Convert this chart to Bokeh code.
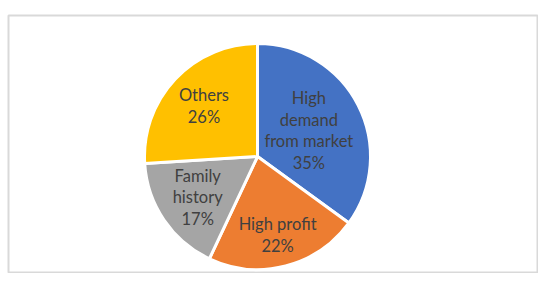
import math
from bokeh.plotting import figure
from bokeh.models import ColumnDataSource, Range1d
from bokeh.core.properties import value
from bokeh.embed import file_html
from bokeh.resources import INLINE

# ---- data ----
categories = ["High demand from market", "High profit", "Family history", "Others"]
label_text = ["High\ndemand\nfrom market", "High profit", "Family\nhistory", "Others"]
values = [35, 22, 17, 26]
colors = ["#4472C4", "#ED7D31", "#A5A5A5", "#FFC000"]

# ---- layout ----
FRAME_W, FRAME_H = 530, 258
LEFT, TOP = 8, 15
cx, cy, R = 249, 117, 113
label_r = [0.51, 0.715, 0.64, 0.65]

total = float(sum(values))
starts, ends, lx, ly, texts = [], [], [], [], []
cum = 0.0
for i, v in enumerate(values):
    a0 = math.pi / 2 - 2 * math.pi * cum / total
    cum += v
    a1 = math.pi / 2 - 2 * math.pi * cum / total
    starts.append(a0)
    ends.append(a1)
    mid = (a0 + a1) / 2
    lx.append(cx + label_r[i] * R * math.cos(mid))
    ly.append(cy + label_r[i] * R * math.sin(mid))
    texts.append(f"{label_text[i]}\n{round(100 * v / total)}%")

src = ColumnDataSource(dict(cat=categories, start=starts, end=ends, color=colors,
                            x=lx, y=ly, text=texts))

p = figure(width=FRAME_W + LEFT, height=FRAME_H + TOP, output_backend="svg",
           toolbar_location=None,
           x_range=Range1d(0, FRAME_W), y_range=Range1d(0, FRAME_H),
           x_axis_type=None, y_axis_type=None,
           min_border_left=LEFT, min_border_right=0, min_border_bottom=0,
           min_border_top=TOP)
p.grid.visible = False
p.background_fill_color = "white"
p.border_fill_color = "white"
p.outline_line_color = "#d9d9d9"
p.outline_line_width = 2

p.wedge(x=cx, y=cy, radius=R, start_angle="start", end_angle="end",
        direction="clock", fill_color="color", line_color="white",
        line_width=3, source=src)

p.text(x="x", y="y", text="text", source=src, text_align="center",
       text_baseline="middle", text_font=value("Lato"), text_font_size="16.5px",
       text_color="#404040", text_line_height=1.08)

open("out.html", "w").write(file_html(p, INLINE))
